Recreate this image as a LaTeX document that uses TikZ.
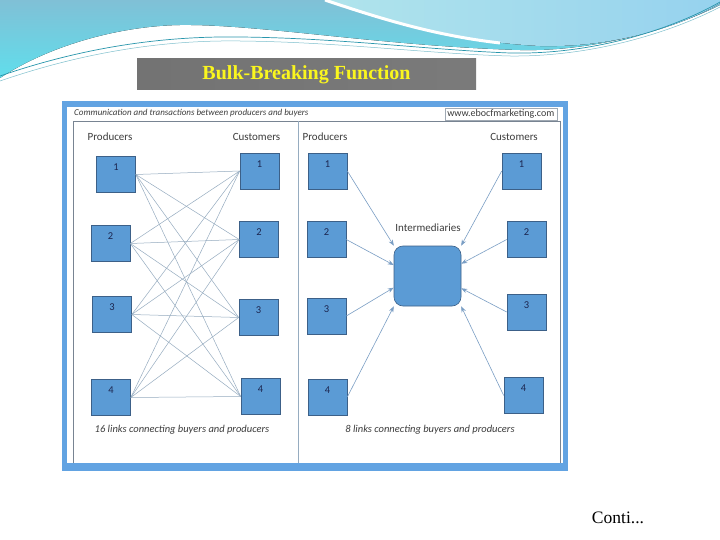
\documentclass[tikz,border=0pt]{standalone}
\usepackage{fontspec}
\setmainfont{Liberation Serif}
\setsansfont{Carlito}
\usepackage{tikz}
\usetikzlibrary{shapes.geometric, arrows.meta, positioning}

\definecolor{waveTop}{RGB}{128,192,214}
\definecolor{waveCyan}{RGB}{96,222,236}
\definecolor{waveLight}{RGB}{176,228,236}
\definecolor{waveLight2}{RGB}{150,210,238}
\definecolor{waveLine}{RGB}{40,150,172}
\definecolor{framebl}{RGB}{98,163,226}
\definecolor{boxbl}{RGB}{91,155,213}
\definecolor{boxedge}{RGB}{60,96,136}
\definecolor{linkgr}{RGB}{150,172,192}
\definecolor{arrowbl}{RGB}{122,158,196}
\definecolor{rulegr}{RGB}{120,132,146}
\definecolor{txtgr}{RGB}{60,60,60}
\definecolor{numnavy}{RGB}{28,38,80}
\definecolor{titleyel}{RGB}{250,246,30}

\newcommand{\lblfont}{\sffamily\fontsize{11}{13}\selectfont}
\newcommand{\numfont}{\sffamily\fontsize{10.5}{12}\selectfont}

\tikzset{
  box/.style={draw=boxedge, fill=boxbl, line width=0.6pt, minimum width=39pt,
    minimum height=36pt, inner sep=0pt, label={[boxnum]north:#1}},
  boxnum/.style={anchor=center, label distance=-11pt, font=\numfont, text=numnavy},
  heading/.style={font=\lblfont, text=txtgr, inner sep=0pt},
  footline/.style={font=\sffamily\itshape\fontsize{10.5}{12}\selectfont, text=txtgr, inner sep=0pt},
  linkline/.style={draw=linkgr, line width=0.5pt},
  feed/.style={draw=arrowbl, line width=0.6pt, -{Stealth[length=6pt,width=4.5pt]}}
}

\begin{document}
\begin{tikzpicture}[x=1pt, y=-1pt]
\useasboundingbox (0,0) rectangle (720,540);
\fill[white] (0,0) rectangle (720,540);

% waves on top
\fill[top color=waveTop, bottom color=waveCyan] (0,0) -- (720,0) -- (720,5)
  .. controls (680,25) and (600,52) .. (520,50)
  .. controls (380,46) and (260,24) .. (180,25)
  .. controls (120,26) and (50,45) .. (0,78) -- cycle;
\fill[left color=waveLight, right color=waveLight2] (325,0)
  .. controls (390,22) and (460,42) .. (540,46)
  .. controls (620,48) and (690,22) .. (720,3) -- (720,0) -- cycle;
\draw[white, line width=3pt] (325,0) .. controls (390,22) and (440,36) .. (500,43);
\draw[waveLine, line width=0.7pt] (0,76) .. controls (90,45) and (170,36) .. (240,37)
  .. controls (340,38) and (430,50) .. (510,53) .. controls (600,55) and (680,25) .. (720,2);
\draw[waveLine!60, line width=0.5pt] (0,81) .. controls (90,50) and (170,40) .. (240,41)
  .. controls (340,42) and (430,54) .. (510,56) .. controls (600,57) and (680,28) .. (720,7);

% title bar
\node[minimum width=339pt, minimum height=31pt, inner sep=0pt,
  left color=black!55, middle color=black!90, right color=black!52,
  font=\bfseries\fontsize{20}{22}\selectfont, text=titleyel] (title) at (306.5,74.5) {Bulk-Breaking Function};

% frame
\fill[framebl] (62,101) rectangle (568,471);
\fill[white] (67,107) rectangle (563,463);
\draw[rulegr, line width=0.6pt] (73,463) -- (73,121) -- (560,121) -- (560,463);
\draw[linkgr, line width=1pt] (298,121) -- (298,463);
\node[anchor=west, inner sep=0pt, font=\sffamily\itshape\fontsize{9}{10}\selectfont, text=txtgr] (caption) at (74,113)
  {Communication and transactions between producers and buyers};
\node[anchor=east, draw=rulegr!70, line width=0.4pt, minimum height=12pt, minimum width=112pt,
  font=\sffamily\fontsize{10}{11}\selectfont, text=txtgr, align=right, inner sep=1pt] (site) at (557,114)
  {\hfill www.ebocfmarketing.com};

% left: direct links
\node[heading] (lprod) at (110,137) {Producers};
\node[heading] (lcust) at (256.5,137) {Customers};
\node[box=1] (p1) at (116,174.5) {};
\node[box=2] (p2) at (110.5,243.5) {};
\node[box=3] (p3) at (112,314.5) {};
\node[box=4] (p4) at (111,397.5) {};
\node[box=1] (c1) at (259.5,171) {};
\node[box=2] (c2) at (259,239.5) {};
\node[box=3] (c3) at (258.5,317.5) {};
\node[box=4] (c4) at (260.5,396.5) {};
\foreach \i in {1,...,4}
  \foreach \j in {1,...,4}
    \draw[linkline] (p\i.east) -- (c\j.west);
\node[footline] (lnote) at (182,430) {16 links connecting buyers and producers};

% right: through intermediaries
\node[heading] (rprod) at (325,137) {Producers};
\node[heading] (rcust) at (514,137) {Customers};
\node[box=1] (rp1) at (327.5,171) {};
\node[box=2] (rp2) at (326.5,239.5) {};
\node[box=3] (rp3) at (326.5,316) {};
\node[box=4] (rp4) at (327.5,397) {};
\node[box=1] (rc1) at (521.5,171) {};
\node[box=2] (rc2) at (526.5,239.5) {};
\node[box=3] (rc3) at (526.5,312) {};
\node[box=4] (rc4) at (523.5,395.5) {};
\node[draw=boxedge, fill=boxbl, line width=0.6pt, rounded corners=9pt,
  minimum width=67pt, minimum height=60pt] (mid) at (427.5,276) {};
\node[heading] (midname) at (428,228) {Intermediaries};
\foreach \i/\a in {1/138,2/162,3/199,4/222}
  \draw[feed] (rp\i.east) -- (mid.\a);
\foreach \i/\a in {1/42,2/20,3/340,4/318}
  \draw[feed] (rc\i.west) -- (mid.\a);
\node[footline] (rnote) at (430,430) {8 links connecting buyers and producers};

\node[font=\fontsize{17.5}{20}\selectfont] (more) at (618,518) {Conti...};
\end{tikzpicture}
\end{document}
